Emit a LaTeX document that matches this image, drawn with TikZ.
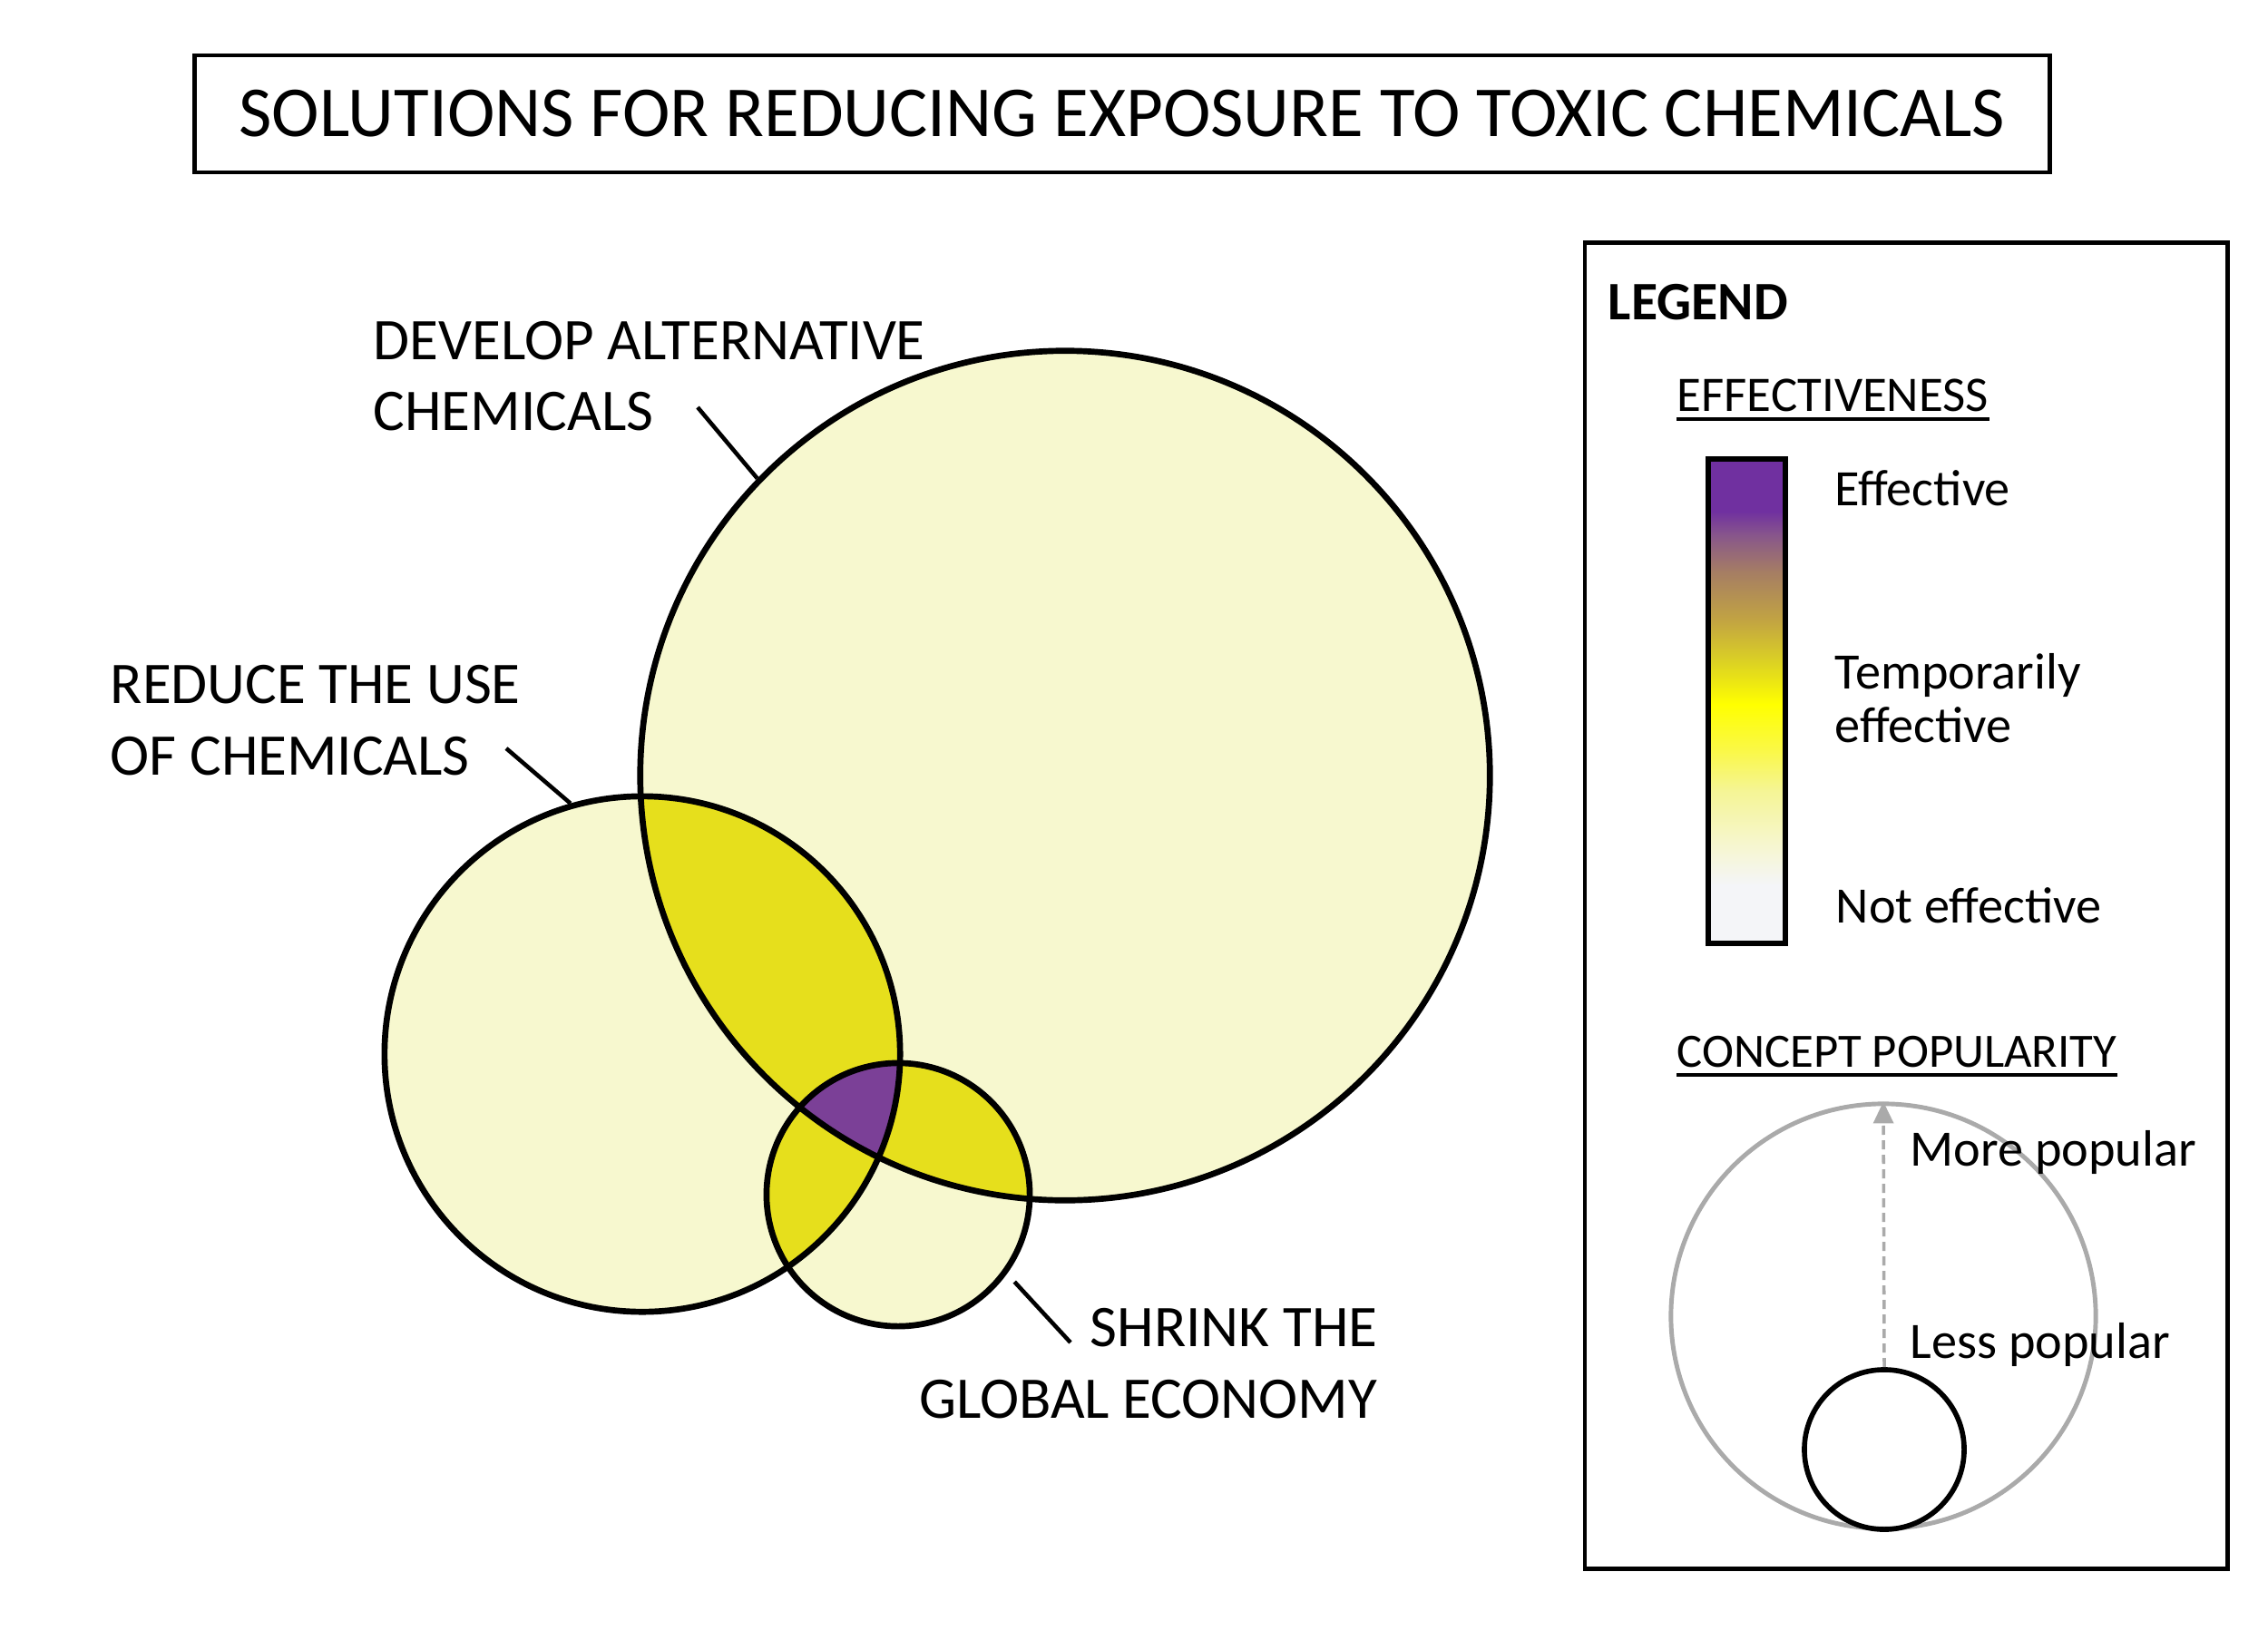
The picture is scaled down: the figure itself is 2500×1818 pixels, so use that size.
\documentclass[tikz,border=0pt]{standalone}
\usepackage{fontspec}
\setmainfont{Carlito}
\usetikzlibrary{arrows.meta}
\definecolor{palefill}{RGB}{247,248,207}
\definecolor{pairfill}{RGB}{230,223,28}
\definecolor{triplefill}{RGB}{123,64,151}
\definecolor{popgray}{RGB}{170,170,170}
\definecolor{effpurple}{RGB}{112,48,160}
\definecolor{effmauve}{RGB}{135,85,140}
\definecolor{effbrown}{RGB}{165,125,100}
\definecolor{effgold}{RGB}{195,165,65}
\definecolor{effolive}{RGB}{220,210,35}
\definecolor{effyellow}{RGB}{255,255,0}
\definecolor{effsoft}{RGB}{250,248,70}
\definecolor{effpale}{RGB}{245,245,150}
\definecolor{effcream}{RGB}{246,246,214}
\definecolor{effnone}{RGB}{244,245,248}
\pgfdeclareverticalshading{effshade}{100bp}{color(0bp)=(effnone); color(25bp)=(effnone); color(31bp)=(effnone); color(34.5bp)=(effcream); color(40.7bp)=(effpale); color(45bp)=(effsoft); color(49.7bp)=(effyellow); color(54bp)=(effolive); color(58.2bp)=(effgold); color(63.4bp)=(effbrown); color(67.2bp)=(effmauve); color(69.6bp)=(effpurple); color(75bp)=(effpurple); color(100bp)=(effpurple)}

\begin{document}
\begin{tikzpicture}[
    x=0.01cm, y=-0.01cm,
    venn/.style={draw, circle, line width=1.9pt, inner sep=0pt},
    lbl/.style={font=\fontsize{18.5}{22.2}\selectfont, inner sep=0pt},
    leader/.style={line width=1.3pt},
    keyhead/.style={font=\fontsize{15.6}{18}\selectfont, inner sep=0pt, anchor=base west},
    keytext/.style={font=\fontsize{16}{16.8}\selectfont, inner sep=0pt},
    uline/.style={line width=0.9pt}
]
\useasboundingbox (0,0) rectangle (2500,1818);

\node[draw, line width=1.3pt, minimum width=20.44cm, minimum height=1.29cm, inner sep=0pt, font=\fontsize{22.5}{27}\selectfont] (title) at (1237,125.5) {SOLUTIONS FOR REDUCING EXPOSURE TO TOXIC CHEMICALS};

\coordinate (cdev) at (1174,855);
\coordinate (cred) at (708,1162);
\coordinate (cshr) at (990,1317);

\fill[palefill] (cdev) circle[radius=468];
\fill[palefill] (cred) circle[radius=284];
\fill[palefill] (cshr) circle[radius=145];
\begin{scope}
  \clip (cdev) circle[radius=468];
  \fill[pairfill] (cred) circle[radius=284];
  \fill[pairfill] (cshr) circle[radius=145];
\end{scope}
\begin{scope}
  \clip (cred) circle[radius=284];
  \fill[pairfill] (cshr) circle[radius=145];
  \clip (cdev) circle[radius=468];
  \fill[triplefill] (cshr) circle[radius=145];
\end{scope}

\node[venn, minimum size=9.36cm] (develop) at (cdev) {};
\node[venn, minimum size=5.68cm] (reduce) at (cred) {};
\node[venn, minimum size=2.90cm] (shrink) at (cshr) {};

\node[lbl, anchor=north west, align=left] (devlabel) at (411,354) {DEVELOP ALTERNATIVE\\CHEMICALS};
\node[lbl, anchor=north west, align=left] (redlabel) at (121,733) {REDUCE THE USE\\OF CHEMICALS};
\node[lbl, anchor=north east, align=right] (shrlabel) at (1519,1442) {SHRINK THE\\GLOBAL ECONOMY};

\coordinate (devtick) at (769,449);
\coordinate (redtick) at (558,825);
\coordinate (shrtick) at (1180,1480);
\draw[leader] (devtick) -- (develop.136);
\draw[leader] (redtick) -- (reduce.106);
\draw[leader, shorten <=0.12cm] (shrink.-36) -- (shrtick);

\node[draw, line width=1.3pt, minimum width=7.08cm, minimum height=14.61cm] (legendbox) at (2101,998.5) {};
\node[font=\bfseries\fontsize{17}{20}\selectfont, inner sep=0pt, anchor=base west] (legendhead) at (1772,352) {LEGEND};

\node[keyhead] (effhead) at (1848,453) {EFFECTIVENESS};
\draw[uline] ([yshift=-0.09cm]effhead.base west) -- ([yshift=-0.09cm]effhead.base east);
\node[draw, line width=1.6pt, shade, shading=effshade, minimum width=0.85cm, minimum height=5.34cm, inner sep=0pt] (effbar) at (1925.5,773) {};
\node[keytext, anchor=base west] (effective) at (2022,557) {Effective};
\node[keytext, anchor=north west, align=left] (temporary) at (2022,720) {Temporarily\\effective};
\node[keytext, anchor=base west] (noteffective) at (2023,1017) {Not effective};

\node[keyhead, font=\fontsize{15}{18}\selectfont] (pophead) at (1848,1176) {CONCEPT POPULARITY};
\draw[uline] ([yshift=-0.09cm]pophead.base west) -- ([yshift=-0.09cm]pophead.base east);
\node[draw=popgray, circle, line width=1.4pt, inner sep=0pt, minimum size=4.68cm] (morecirc) at (2076,1451) {};
\node[draw, circle, line width=1.6pt, inner sep=0pt, minimum size=1.76cm] (lesscirc) at (2077,1598) {};
\draw[popgray, line width=1pt, dash pattern=on 0.1cm off 0.06cm, -{Triangle[length=0.24cm, width=0.22cm]}] (lesscirc.north) -- (morecirc.north);
\node[keytext, anchor=base west] (morepop) at (2105,1285) {More popular};
\node[keytext, anchor=base west] (lesspop) at (2105,1497) {Less popular};

\end{tikzpicture}
\end{document}
